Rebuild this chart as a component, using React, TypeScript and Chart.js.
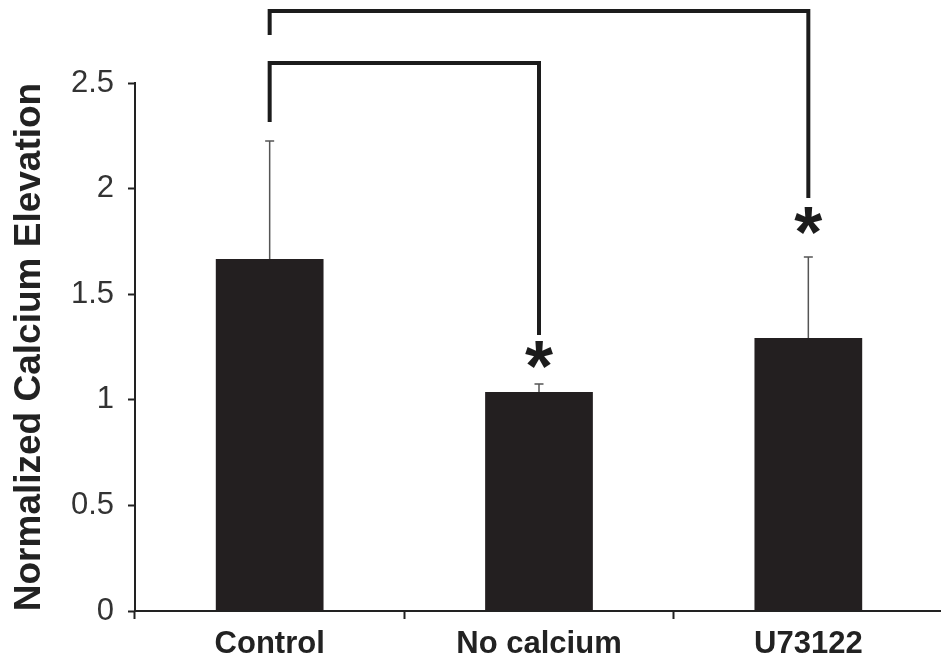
import React, { useEffect, useRef } from "react";
import { Chart, registerables } from "chart.js";

Chart.register(...registerables);

const categories = ["Control", "No calcium", "U73122"];
const means = [1.667, 1.037, 1.293];
const errors = [0.558, 0.038, 0.383];
const yTickLabels = ["0", "0.5", "1", "1.5", "2", "2.5"];
const yAxisTitle = "Normalized Calcium Elevation";

// significance brackets: [fromIndex, toIndex, topLevel, leftDropLevel, rightDropLevel]
const bracketFrom = [0, 0];
const bracketTo = [1, 2];
const bracketTop = [2.595, 2.841];
const bracketLeftEnd = [2.315, 2.727];
const bracketRightEnd = [1.307, 1.955];

// asterisks: category index and level
const starIndex = [1, 2];
const starLevel = [1.213, 1.851];

const annotationPlugin = {
  id: "annotations",
  afterDraw(chart: any) {
    const ctx = chart.ctx;
    const x = chart.scales.x;
    const y = chart.scales.y;
    const meta = chart.getDatasetMeta(0);
    ctx.save();
    // error bars
    ctx.strokeStyle = "#555";
    ctx.lineWidth = 1.5;
    means.forEach((m, i) => {
      const bar = meta.data[i];
      const cx = bar.x;
      const y0 = y.getPixelForValue(m);
      const y1 = y.getPixelForValue(m + errors[i]);
      ctx.beginPath();
      ctx.moveTo(cx, y0);
      ctx.lineTo(cx, y1);
      ctx.moveTo(cx - 4.5, y1);
      ctx.lineTo(cx + 4.5, y1);
      ctx.stroke();
    });
    // brackets
    ctx.strokeStyle = "#1c1c1c";
    ctx.lineWidth = 4;
    ctx.lineJoin = "miter";
    ctx.lineCap = "butt";
    bracketFrom.forEach((f, i) => {
      const xa = x.getPixelForValue(f);
      const xb = x.getPixelForValue(bracketTo[i]);
      ctx.beginPath();
      ctx.moveTo(xa, y.getPixelForValue(bracketLeftEnd[i]));
      ctx.lineTo(xa, y.getPixelForValue(bracketTop[i]));
      ctx.lineTo(xb, y.getPixelForValue(bracketTop[i]));
      ctx.lineTo(xb, y.getPixelForValue(bracketRightEnd[i]));
      ctx.stroke();
    });
    // asterisks
    ctx.fillStyle = "#1c1c1c";
    ctx.font = "bold 72px 'Liberation Sans', Arial, sans-serif";
    ctx.textAlign = "left";
    ctx.textBaseline = "alphabetic";
    starIndex.forEach((idx, i) => {
      const cx = x.getPixelForValue(idx);
      const cy = y.getPixelForValue(starLevel[i]);
      const mt = ctx.measureText("*");
      const L = mt.actualBoundingBoxLeft;
      const R = mt.actualBoundingBoxRight;
      const A = mt.actualBoundingBoxAscent;
      const D = mt.actualBoundingBoxDescent;
      ctx.fillText("*", cx - (R - L) / 2, cy - (D - A) / 2);
    });
    ctx.restore();
  },
};

export default function App() {
  const canvasRef = useRef<HTMLCanvasElement>(null);
  useEffect(() => {
    const canvas = canvasRef.current;
    if (!canvas) return;
    const chart = new Chart(canvas, {
      type: "bar",
      data: {
        labels: categories,
        datasets: [
          {
            data: means,
            backgroundColor: "#231f20",
            borderWidth: 0,
            barPercentage: 0.8,
            categoryPercentage: 0.5,
          },
        ],
      },
      options: {
        responsive: false,
        animation: false,
        devicePixelRatio: 1,
        layout: { padding: { top: 83, left: 0, right: 0, bottom: 0 } },
        plugins: {
          legend: { display: false },
          tooltip: { enabled: false },
        },
        scales: {
          x: {
            afterFit(scale: any) {
              scale.height = 51;
            },
            grid: {
              drawOnChartArea: false,
              drawTicks: true,
              tickLength: 8,
              tickWidth: 2,
              tickColor: "#222",
              offset: true,
            },
            border: { display: true, color: "#222", width: 2 },
            ticks: {
              color: "#222",
              padding: 7,
              font: { family: "'Liberation Sans', Arial, sans-serif", size: 31, weight: "bold" },
            },
          },
          y: {
            min: 0,
            max: 2.5,
            afterFit(scale: any) {
              scale.width = 135;
            },
            grid: {
              drawOnChartArea: false,
              drawTicks: true,
              tickLength: 7,
              tickWidth: 2,
              tickColor: "#222",
            },
            border: { display: true, color: "#222", width: 2 },
            ticks: {
              stepSize: 0.5,
              color: "#333",
              padding: 14,
              font: { family: "'Liberation Sans', Arial, sans-serif", size: 31 },
              callback: (_v: any, i: number) => yTickLabels[i],
            },
            title: {
              display: true,
              text: yAxisTitle,
              color: "#222",
              padding: { top: 8, bottom: 0 },
              font: { family: "'Liberation Sans', Arial, sans-serif", size: 37, weight: "bold" },
            },
          },
        },
      },
      plugins: [annotationPlugin],
    });
    return () => chart.destroy();
  }, []);
  return (
    <div
      style={{
        position: "fixed",
        left: 0,
        top: 0,
        width: 941,
        height: 662,
        overflow: "hidden",
        background: "#fff",
      }}
    >
      <canvas ref={canvasRef} width={943} height={662} style={{ display: "block" }} />
    </div>
  );
}
